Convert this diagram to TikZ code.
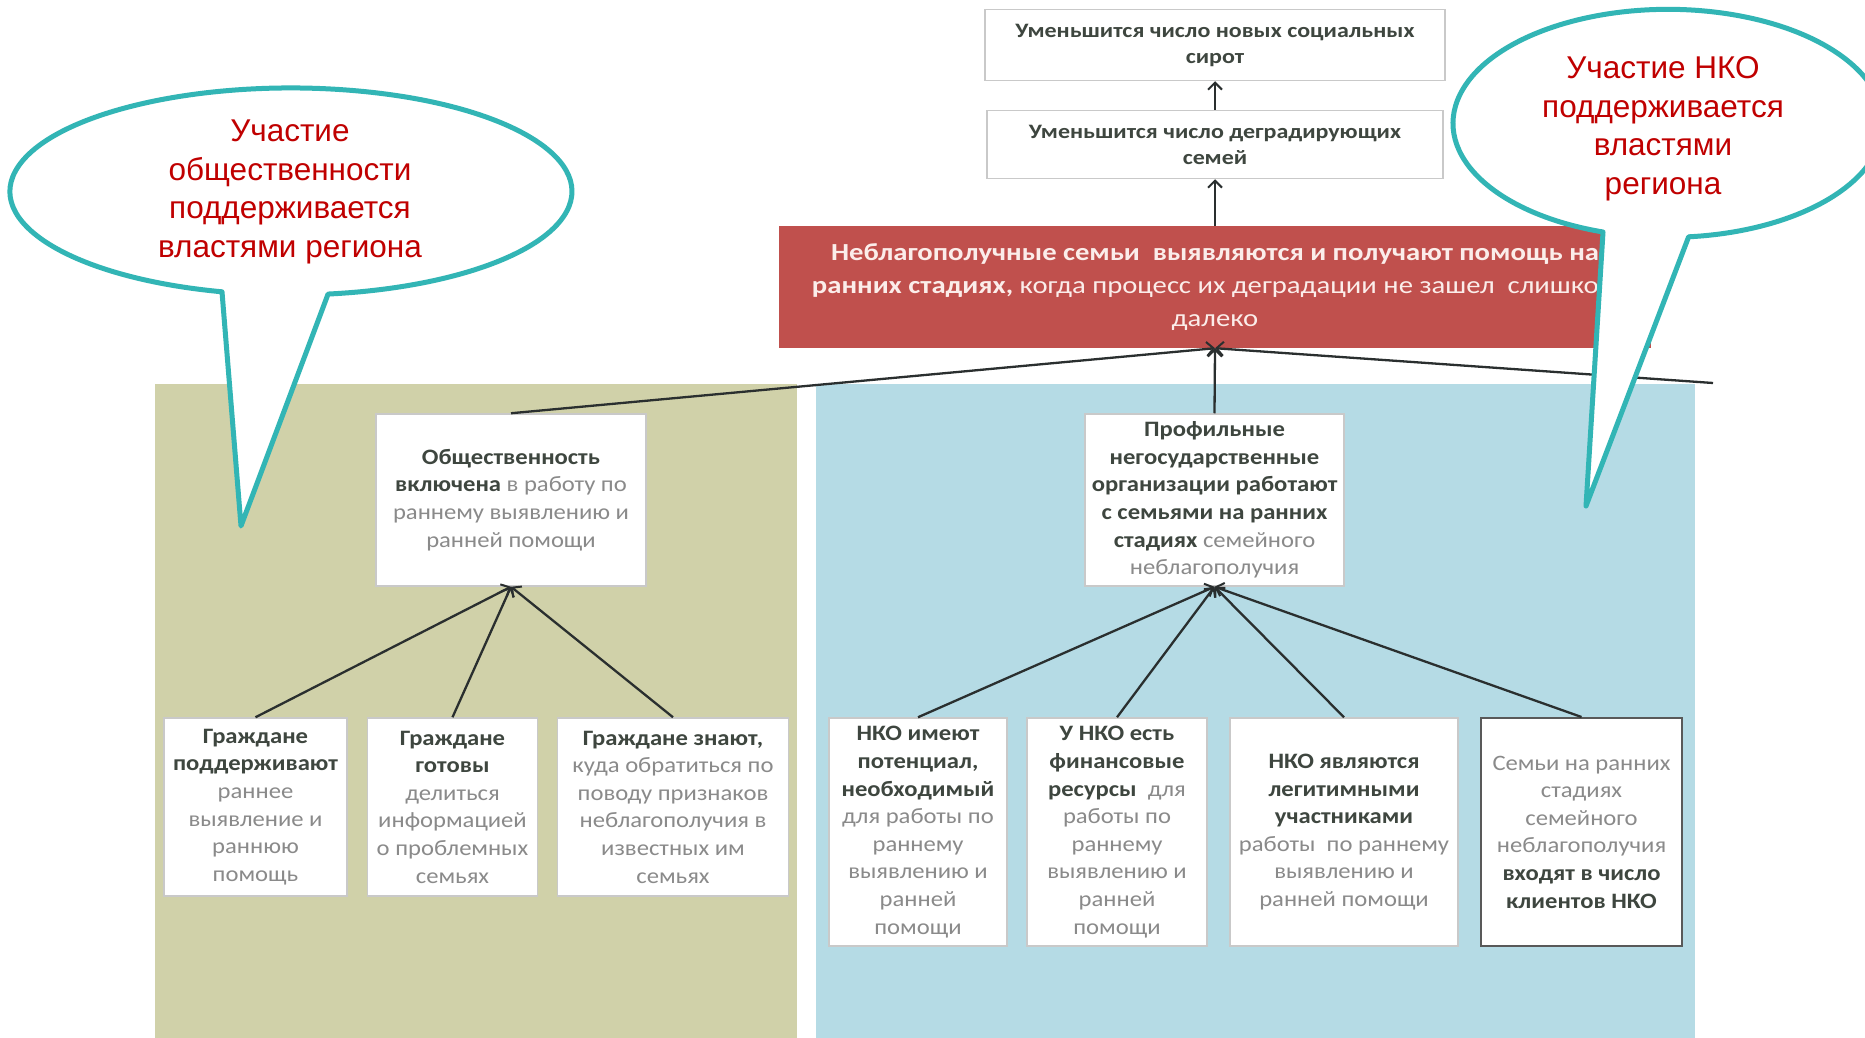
\documentclass[tikz,border=0pt]{standalone}
\usepackage{fontspec}
\setmainfont{Carlito}
\newfontfamily\callfont{Liberation Sans}
\newfontfamily\boxfont[FakeStretch=1.12]{Carlito}
\newfontfamily\widefont[FakeStretch=1.17]{Carlito}
\usetikzlibrary{arrows.meta}

\definecolor{panelgreen}{HTML}{D0D1A9}
\definecolor{panelblue}{HTML}{B5DBE5}
\definecolor{redfill}{HTML}{C0504D}
\definecolor{calloutteal}{HTML}{32B5B5}
\definecolor{calred}{HTML}{C00000}
\definecolor{inkbold}{HTML}{3E463F}
\definecolor{inkgray}{HTML}{8A8A8A}
\definecolor{framegray}{HTML}{C9C9C9}
\definecolor{linedark}{HTML}{2A2F2F}
\definecolor{redtext}{HTML}{FBEDEA}

\newcommand\bt[1]{{\bfseries\color{inkbold}#1}}

\begin{document}
\begin{tikzpicture}[x=1pt,y=-1pt,
  cellbox/.style={draw=framegray, line width=1.5pt, fill=white, align=center,
    inner sep=0pt, text=inkgray, font=\boxfont\fontsize{22}{27.6}\selectfont},
  topbox/.style={cellbox, draw=framegray, text=inkbold,
    font=\widefont\bfseries\fontsize{20.5}{26}\selectfont},
  goalbox/.style={fill=redfill, align=center, inner sep=0pt, text=redtext,
    font=\widefont\fontsize{24.5}{33}\selectfont},
  conn/.style={draw=linedark, line width=2.3pt,
    -{Straight Barb[length=7pt,width=14pt,line width=2pt]}},
  callout/.style={draw=calloutteal, line width=5pt, fill=white, line join=round},
  calltext/.style={align=center, text=calred, inner sep=0pt,
    font=\callfont\fontsize{31.5}{38.5}\selectfont}]

\clip (0,0) rectangle (1865,1038);
\fill[white] (0,0) rectangle (1865,1038);

% background panels
\fill[panelgreen] (155,384) rectangle (797,1038);
\fill[panelblue] (816,384) rectangle (1695,1038);

% outcome chain at the top
\node[topbox, minimum width=460, minimum height=71] (top1) at (1215,45)
  {Уменьшится число новых социальных\\сирот};
\node[topbox, minimum width=456, minimum height=68] (top2) at (1215,144.5)
  {Уменьшится число деградирующих\\семей};
\node[goalbox, minimum width=872, minimum height=122] (goal) at (1215,287)
  {\bfseries Неблагополучные семьи~~выявляются и получают помощь на\\
   \bfseries ранних стадиях,\mdseries{} когда процесс их деградации не зашел~~слишком\\
   далеко};

% second level
\node[cellbox, minimum width=270, minimum height=172] (pub) at (511,500)
  {\bt{Общественность}\\\bt{включена} в работу по\\раннему выявлению и\\ранней помощи};
\node[cellbox, minimum width=259, minimum height=172] (ngo) at (1214.5,500)
  {\bt{Профильные}\\\bt{негосударственные}\\\bt{организации работают}\\\bt{с семьями на ранних}\\\bt{стадиях} семейного\\неблагополучия};

% citizens
\node[cellbox, minimum width=183, minimum height=178] (g1) at (255.5,807)
  {\bt{Граждане}\\\bt{поддерживают}\\раннее\\выявление и\\раннюю\\помощь};
\node[cellbox, minimum width=170, minimum height=178] (g2) at (452.5,807)
  {\bt{Граждане}\\\bt{готовы}\\делиться\\информацией\\о проблемных\\семьях};
\node[cellbox, minimum width=231, minimum height=178] (g3) at (673,807)
  {\bt{Граждане знают,}\\куда обратиться по\\поводу признаков\\неблагополучия в\\известных им\\семьях};

% NGO conditions
\node[cellbox, minimum width=178, minimum height=228] (n1) at (918,832)
  {\bt{НКО имеют}\\\bt{потенциал,}\\\bt{необходимый}\\для работы по\\раннему\\выявлению и\\ранней\\помощи};
\node[cellbox, minimum width=180, minimum height=228] (n2) at (1117,832)
  {\bt{У НКО есть}\\\bt{финансовые}\\\bt{ресурсы}~~для\\работы по\\раннему\\выявлению и\\ранней\\помощи};
\node[cellbox, minimum width=228, minimum height=228] (n3) at (1344,832)
  {\bt{НКО являются}\\\bt{легитимными}\\\bt{участниками}\\работы~~по раннему\\выявлению и\\ранней помощи};
\node[cellbox, draw=gray!70!black, line width=2pt, minimum width=201, minimum height=228] (n4) at (1581.5,832)
  {Семьи на ранних\\стадиях\\семейного\\неблагополучия\\\bt{входят в число}\\\bt{клиентов НКО}};

% connectors
\coordinate (offright) at (1713,383);
\draw[conn] (top2.north) -- (top1.south);
\draw[conn] (goal.north) -- (top2.south);
\draw[conn] (pub.north) -- (goal.south);
\draw[conn] (ngo.north) -- (goal.south);
\draw[conn] (offright) -- (goal.south);
\foreach \c in {g1,g2,g3} \draw[conn] (\c.north) -- (pub.south);
\foreach \c in {n1,n2,n3,n4} \draw[conn] (\c.north) -- (ngo.south);

% speech bubbles
\draw[callout] (222,291.8) arc[start angle=255.8, end angle=-82.4,
  x radius=281pt, y radius=103.5pt] -- (241,526) -- cycle;
\node[calltext] (bubbleL) at (290,192)
  {Участие\\общественности\\поддерживается\\властями региона};

\draw[callout] (1603,232) arc[start angle=252.4, end angle=-84.5,
  x radius=215pt, y radius=114pt] -- (1586,506) -- cycle;
\node[calltext] (bubbleR) at (1663,129)
  {Участие НКО\\поддерживается\\властями\\региона};
\end{tikzpicture}
\end{document}
